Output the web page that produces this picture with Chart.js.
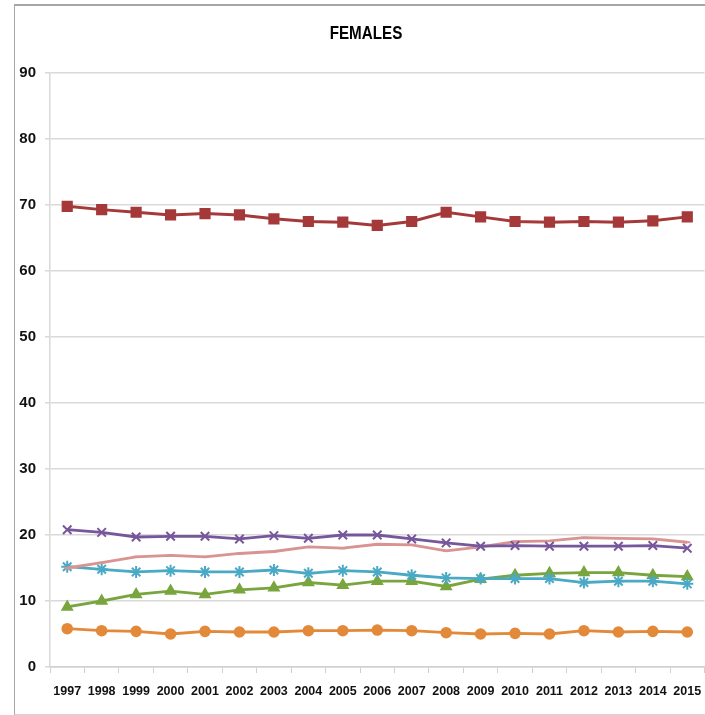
<!DOCTYPE html>
<html>
<head>
<meta charset="utf-8">
<script src="https://cdn.jsdelivr.net/npm/chart.js@4"></script>
<style>
  html, body { margin: 0; padding: 0; background: #fff; width: 705px; height: 715px; overflow: hidden; }
  #frame { position: absolute; left: 14px; top: 4px; width: 710px; height: 708px;
           border-left: 1px solid #a6a6a6; border-top: 2px solid #a6a6a6; border-bottom: 1px solid #d4d4d4; }
  #c { position: absolute; left: 0; top: 0; }
</style>
</head>
<body>
<div id="frame"><canvas id="c" width="698" height="708"></canvas></div>
<script>
const chartTitle = 'FEMALES';
const years = ['1997','1998','1999','2000','2001','2002','2003','2004','2005','2006','2007','2008','2009','2010','2011','2012','2013','2014','2015'];
const redSeries    = [69.8, 69.3, 68.9, 68.5, 68.7, 68.5, 67.9, 67.5, 67.4, 66.9, 67.5, 68.9, 68.2, 67.5, 67.4, 67.5, 67.4, 67.6, 68.2];
const purpleSeries = [20.8, 20.4, 19.7, 19.8, 19.8, 19.4, 19.9, 19.5, 20.0, 20.0, 19.4, 18.8, 18.3, 18.4, 18.3, 18.3, 18.3, 18.4, 18.0];
const pinkSeries   = [15.0, 15.8, 16.7, 16.9, 16.7, 17.2, 17.5, 18.2, 18.0, 18.6, 18.5, 17.6, 18.2, 19.0, 19.1, 19.6, 19.5, 19.4, 18.9];
const tealSeries   = [15.2, 14.8, 14.4, 14.6, 14.4, 14.4, 14.7, 14.2, 14.6, 14.4, 13.9, 13.5, 13.4, 13.4, 13.4, 12.8, 13.0, 13.0, 12.6];
const greenSeries  = [9.1, 10.0, 11.0, 11.5, 11.0, 11.7, 12.0, 12.8, 12.4, 13.0, 13.0, 12.2, 13.3, 13.9, 14.2, 14.3, 14.3, 13.9, 13.7];
const orangeSeries = [5.8, 5.5, 5.4, 5.0, 5.4, 5.3, 5.3, 5.5, 5.5, 5.6, 5.5, 5.2, 5.0, 5.1, 5.0, 5.5, 5.3, 5.4, 5.3];
const yTicks = [0, 10, 20, 30, 40, 50, 60, 70, 80, 90];

const FONT = "'Liberation Sans', Arial, sans-serif";

function ds(data, color, style, radius, width) {
  return {
    data: data, borderColor: color, backgroundColor: color,
    pointStyle: style, pointRadius: radius, pointHoverRadius: radius,
    pointBorderColor: color, pointBackgroundColor: color, pointBorderWidth: 2,
    borderWidth: width, tension: 0, fill: false
  };
}

const titlePlugin = {
  id: 'customTitle',
  afterDraw(chart) {
    const ctx = chart.ctx;
    ctx.save();
    ctx.translate(351, 28);
    ctx.scale(0.8, 1);
    ctx.font = 'bold 19px ' + FONT;
    ctx.fillStyle = '#000';
    ctx.textAlign = 'center';
    ctx.textBaseline = 'middle';
    ctx.fillText(chartTitle, 0, 0);
    ctx.restore();
  }
};

new Chart(document.getElementById('c'), {
  type: 'line',
  data: {
    labels: years,
    datasets: [
      ds(redSeries, '#a5393a', 'rect', 6.5, 3),
      ds(purpleSeries, '#77579b', 'crossRot', 6, 2.8),
      ds(pinkSeries, '#d99391', 'line', 3, 2.8),
      ds(tealSeries, '#4aa9c4', 'star', 6, 2.8),
      ds(greenSeries, '#78a53e', 'triangle', 5.5, 2.8),
      ds(orangeSeries, '#e3893a', 'circle', 4.8, 2.8)
    ]
  },
  options: {
    responsive: false,
    animation: false,
    devicePixelRatio: 1,
    layout: { padding: { top: 67, left: 0, right: 0, bottom: 0 } },
    plugins: { legend: { display: false }, title: { display: false }, tooltip: { enabled: false } },
    scales: {
      x: {
        offset: true,
        afterFit(s) { s.height = 47; },
        grid: { offset: true, drawOnChartArea: false, drawTicks: true, tickLength: 6, color: '#d0d0d0', lineWidth: 1 },
        border: { color: '#d0d0d0', width: 1.5 },
        ticks: { color: '#111', font: { family: FONT, weight: 'bold', size: 12.5 }, padding: 11, maxRotation: 0, autoSkip: false }
      },
      y: {
        min: 0, max: 90,
        afterFit(s) { s.width = 35; },
        afterBuildTicks(s) { s.ticks = yTicks.map(v => ({ value: v })); },
        grid: { color: '#d9d9d9', lineWidth: 1.5, tickLength: 5, drawTicks: true },
        border: { color: '#d9d9d9', width: 1.5 },
        ticks: { color: '#111', font: { family: FONT, weight: 'bold', size: 15 }, padding: 9 }
      }
    }
  },
  plugins: [titlePlugin]
});
</script>
</body>
</html>
